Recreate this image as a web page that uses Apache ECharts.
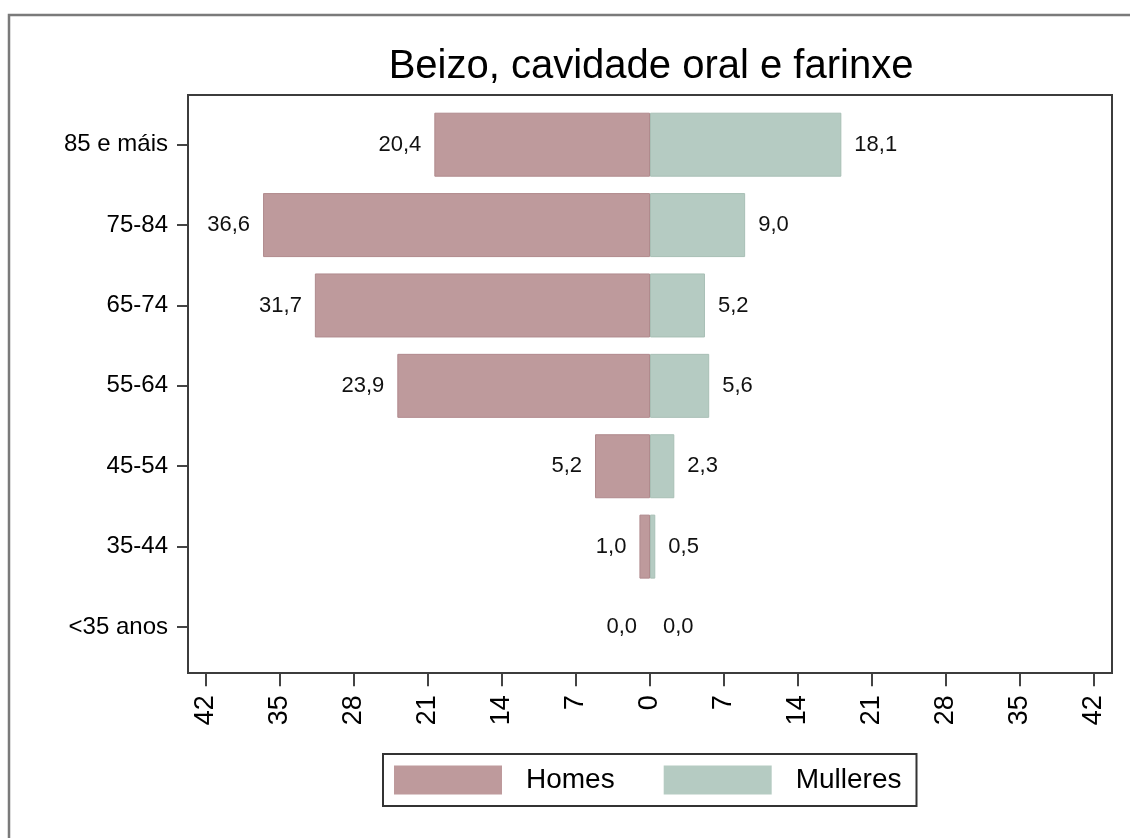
<!DOCTYPE html>
<html>
<head>
<meta charset="utf-8">
<script src="https://cdn.jsdelivr.net/npm/echarts@6/dist/echarts.min.js"></script>
<style>
  html, body { margin: 0; padding: 0; background: #fff; }
  #chart { width: 1130px; height: 838px; }
</style>
</head>
<body>
<div id="chart"></div>
<script>
  // age groups, top to bottom
  var grupos = ['85 e máis', '75-84', '65-74', '55-64', '45-54', '35-44', '<35 anos'];
  var homes = [20.4, 36.6, 31.7, 23.9, 5.2, 1.0, 0.0];
  var mulleres = [18.1, 9.0, 5.2, 5.6, 2.3, 0.5, 0.0];
  var xTicks = [-42, -35, -28, -21, -14, -7, 0, 7, 14, 21, 28, 35, 42];

  var fonte = '"Liberation Sans", Arial, sans-serif';

  function etiqueta(p) {
    return Math.abs(p.value).toFixed(1).replace('.', ',');
  }

  // no outline on empty bars
  function barras(vals, sign, border) {
    return vals.map(function (v) {
      return { value: sign * v, itemStyle: { borderWidth: v === 0 ? 0 : 1, borderColor: border } };
    });
  }

  var myChart = echarts.init(document.getElementById('chart'));
  myChart.setOption({
    backgroundColor: '#fff',
    animation: false,
    textStyle: { fontFamily: fonte },
    title: {
      text: 'Beizo, cavidade oral e farinxe',
      left: 646,
      top: 42,
      textAlign: 'center',
      textStyle: { fontFamily: fonte, fontSize: 40, fontWeight: 'normal', color: '#000' }
    },
    graphic: [
      {
        type: 'rect',
        shape: { x: 9, y: 15, width: 1140, height: 840 },
        style: { fill: 'none', stroke: '#7a7a7a', lineWidth: 2.5 },
        z: -10
      },
      {
        type: 'rect',
        shape: { x: 188, y: 95, width: 924, height: 578 },
        style: { fill: 'none', stroke: '#3c3c3c', lineWidth: 2 },
        z: 10
      }
    ],
    legend: {
      left: 383,
      top: 754,
      padding: [11.5, 15, 11.5, 11],
      borderColor: '#333',
      borderWidth: 2,
      itemWidth: 108,
      itemHeight: 29,
      itemGap: 49,
      icon: 'rect',
      data: ['Homes', 'Mulleres'],
      textStyle: { fontFamily: fonte, fontSize: 28, color: '#000', padding: [0, 0, 0, 19] }
    },
    grid: {
      left: 188,
      right: 18,
      top: 104.5,
      bottom: 170.8
    },
    xAxis: {
      type: 'value',
      min: -43.7,
      max: 43.7,
      offset: 6,
      splitLine: { show: false },
      axisLine: { show: false, onZero: false },
      axisTick: {
        show: true,
        customValues: xTicks,
        length: 13,
        lineStyle: { color: '#444', width: 2 }
      },
      axisLabel: {
        customValues: xTicks,
        rotate: 90,
        margin: 22,
        fontFamily: fonte,
        fontSize: 27,
        color: '#000',
        formatter: function (v) { return Math.abs(v); }
      }
    },
    yAxis: {
      type: 'category',
      data: grupos,
      inverse: true,
      axisLine: { show: false, onZero: false },
      axisTick: {
        show: true,
        alignWithLabel: true,
        length: 11,
        lineStyle: { color: '#444', width: 2 }
      },
      axisLabel: {
        margin: 20,
        fontFamily: fonte,
        fontSize: 24,
        color: '#000'
      }
    },
    series: [
      {
        name: 'Homes',
        type: 'bar',
        barWidth: 64,
        barGap: '-100%',
        data: barras(homes, -1, '#b08a8d'),
        itemStyle: { color: '#be9a9c', borderColor: '#b08a8d' },
        label: {
          show: true,
          position: 'left',
          distance: 13,
          formatter: etiqueta,
          fontFamily: fonte,
          fontSize: 22,
          color: '#111'
        }
      },
      {
        name: 'Mulleres',
        type: 'bar',
        barWidth: 64,
        barGap: '-100%',
        data: barras(mulleres, 1, '#a8bfb5'),
        itemStyle: { color: '#b5cbc2', borderColor: '#a8bfb5' },
        label: {
          show: true,
          position: 'right',
          distance: 13,
          formatter: etiqueta,
          fontFamily: fonte,
          fontSize: 22,
          color: '#111'
        }
      }
    ]
  });
</script>
</body>
</html>
